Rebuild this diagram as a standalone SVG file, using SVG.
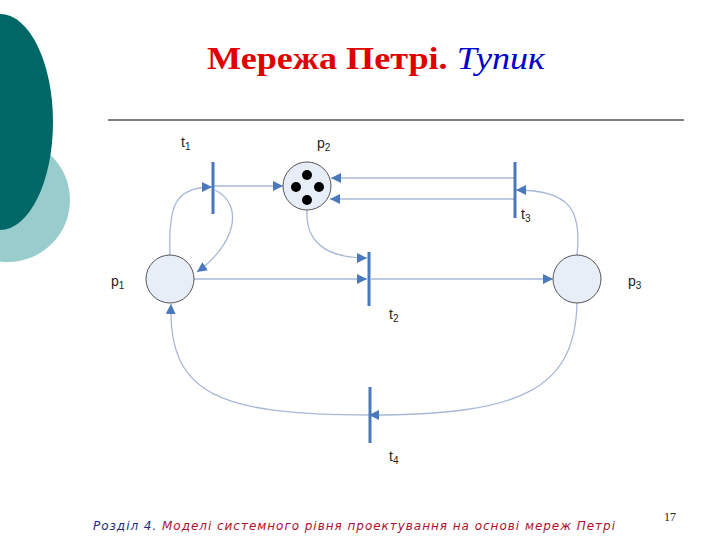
<svg xmlns="http://www.w3.org/2000/svg" width="720" height="540" viewBox="0 0 720 540">
<style>
.pl{fill:#e8eef8;stroke:#555;stroke-width:1}
.tr{stroke:#4a78bc;stroke-width:3}
.ed{fill:none;stroke:#a8b8d8;stroke-width:1.3;marker-end:url(#ar)}
.lb{font-family:"Liberation Sans",Arial,sans-serif;font-size:14px;fill:#222}
.sb{font-size:10px}
</style>
<defs>
<marker id="ar" viewBox="0 0 10 10" refX="10" refY="5" markerWidth="10" markerHeight="10" markerUnits="userSpaceOnUse" orient="auto"><path d="M0,0L10,5L0,10z" fill="#4a78bc"/></marker>
</defs>
<rect width="720" height="540" fill="#fff"/>
<circle cx="8" cy="200" r="62" fill="#99cccc"/>
<ellipse cx="0" cy="122" rx="53" ry="108" fill="#006666"/>
<text x="376" y="69" text-anchor="middle" font-family="'Liberation Serif', 'Times New Roman', serif" font-size="31" textLength="338" lengthAdjust="spacingAndGlyphs"><tspan fill="#e00000" font-weight="bold">Мережа Петрі.</tspan> <tspan fill="#0000cc" font-style="italic">Тупик</tspan></text>
<line x1="108" y1="120" x2="684" y2="120" stroke="#000" stroke-width="1"/>
<g id="connectors">
<path class="ed" d="M170,255 C168,205 175,187 212,187"/>
<path class="ed" d="M214,186 L283,186"/>
<path class="ed" d="M215,190 C245,205 235,245 197,272"/>
<path class="ed" d="M307,210 C305,245 330,258 367,258"/>
<path class="ed" d="M194,279 L367,279"/>
<path class="ed" d="M371,279 L553,279"/>
<path class="ed" d="M514,178 L331,178"/>
<path class="ed" d="M514,199 L330,199"/>
<path class="ed" d="M577,255 C582,210 570,190 516,190"/>
<path class="ed" d="M577,303 C575,390 520,415 369,415"/>
<path class="ed" d="M370,415 C220,415 168,395 171,304"/>
</g>
<g id="p1"><circle class="pl" cx="170" cy="279" r="24"/><text class="lb" x="111" y="286">p<tspan class="sb" dy="3">1</tspan></text></g>
<g id="p2"><circle class="pl" cx="307" cy="186" r="24"/>
<circle cx="307" cy="175" r="5"/><circle cx="296" cy="187" r="5"/><circle cx="319" cy="187" r="5"/><circle cx="307" cy="200" r="5"/>
<text class="lb" x="317" y="148">p<tspan class="sb" dy="3">2</tspan></text></g>
<g id="p3"><circle class="pl" cx="577" cy="279" r="24"/><text class="lb" x="628" y="286">p<tspan class="sb" dy="3">3</tspan></text></g>
<g id="t1"><line class="tr" x1="213" y1="162" x2="213" y2="214"/><text class="lb" x="181" y="147">t<tspan class="sb" dy="3">1</tspan></text></g>
<g id="t2"><line class="tr" x1="369" y1="252" x2="369" y2="306"/><text class="lb" x="389" y="319">t<tspan class="sb" dy="3">2</tspan></text></g>
<g id="t3"><line class="tr" x1="515" y1="162" x2="515" y2="218"/><text class="lb" x="521" y="219">t<tspan class="sb" dy="3">3</tspan></text></g>
<g id="t4"><line class="tr" x1="370" y1="387" x2="370" y2="443"/><text class="lb" x="389" y="461">t<tspan class="sb" dy="3">4</tspan></text></g>
<text x="93" y="530" font-family="'DejaVu Sans', Verdana, sans-serif" font-style="italic" font-size="12" textLength="522"><tspan fill="#1a2a80">Розділ 4.</tspan> <tspan fill="#b01030">Моделі системного рівня проектування на основі мереж Петрі</tspan></text>
<text x="670" y="521" text-anchor="middle" font-family="'Liberation Serif', serif" font-size="12" fill="#222">17</text>
</svg>
